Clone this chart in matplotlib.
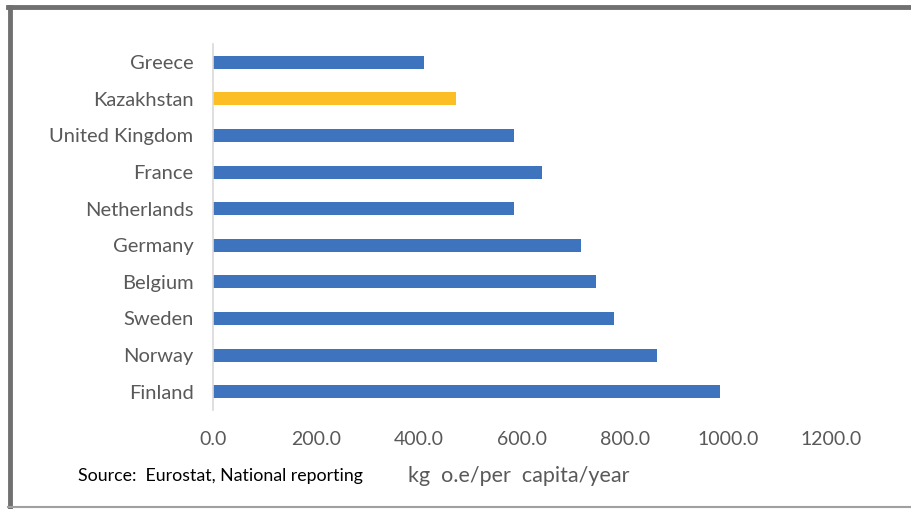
import matplotlib.pyplot as plt
from matplotlib.lines import Line2D

countries = ['Greece', 'Kazakhstan', 'United Kingdom', 'France', 'Netherlands',
             'Germany', 'Belgium', 'Sweden', 'Norway', 'Finland']
values = [410, 472, 585, 639, 585, 715, 744, 779, 862, 984]
highlight = 'Kazakhstan'
ticks = [0, 200, 400, 600, 800, 1000, 1200]

blue = '#3E74BE'
gold = '#FBBE25'
grey = '#595959'

plt.rcParams['font.family'] = ['Lato', 'DejaVu Sans']

fig = plt.figure(figsize=(9.12, 5.09), dpi=100)
ax = fig.add_axes([213 / 912, 1 - 410 / 509, (837 - 213) / 912, 366 / 509])

colors = [gold if c == highlight else blue for c in countries]
ax.barh(range(len(countries)), values, height=0.36, color=colors)

ax.set_ylim(len(countries) - 0.5, -0.5)
ax.set_xlim(0, 1212)
ax.set_yticks(range(len(countries)))
ax.set_yticklabels(countries, fontsize=14.5, color=grey)
ax.set_xticks(ticks)
ax.set_xticklabels(['%.1f' % t for t in ticks], fontsize=14, color=grey)
ax.tick_params(length=0)
ax.tick_params(axis='y', pad=14)
ax.tick_params(axis='x', pad=15)
for side in ['top', 'right', 'bottom']:
    ax.spines[side].set_visible(False)
ax.spines['left'].set_color('#D9D9D9')
ax.spines['left'].set_linewidth(1.2)

fig.text(78 / 912, 1 - 476 / 509, 'Source:  Eurostat, National reporting',
         fontsize=12.8, color='black', va='center')
fig.text(408 / 912, 1 - 476 / 509, 'kg  o.e/per  capita/year',
         fontsize=15.5, color=grey, va='center')

# outer frame
fig.add_artist(Line2D([10 / 912, 10 / 912], [1 - 7 / 509, 1 - 507 / 509],
                      transform=fig.transFigure, color='#707070', lw=3.5))
fig.add_artist(Line2D([8 / 912, 1], [1 - 7 / 509, 1 - 7 / 509],
                      transform=fig.transFigure, color='#707070', lw=3.5))
fig.add_artist(Line2D([8 / 912, 1], [1 - 507 / 509, 1 - 507 / 509],
                      transform=fig.transFigure, color='#A0A0A0', lw=1.5))

fig.savefig('out.png', dpi=100)
